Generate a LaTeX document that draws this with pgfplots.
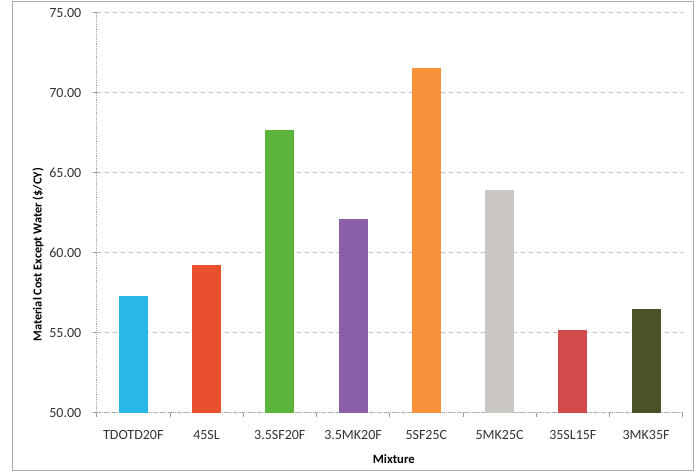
\documentclass[border=0pt]{standalone}
\usepackage{fontspec}
\setmainfont{Carlito}
\usepackage{pgfplots}
\pgfplotsset{compat=1.18}

\definecolor{cTD}{HTML}{2AB6E6}
\definecolor{cSL}{HTML}{E9502D}
\definecolor{cSF}{HTML}{5CB53B}
\definecolor{cMK}{HTML}{8B5EA8}
\definecolor{cSFC}{HTML}{F7923B}
\definecolor{cMKC}{HTML}{CAC6C2}
\definecolor{cSLF}{HTML}{D24B4C}
\definecolor{cMKF}{HTML}{4B5128}

\begin{document}
\begin{tikzpicture}
% page extent and outer chart frame
\path (-72.5pt,-45pt) rectangle (450.2pt,309.5pt);
\draw[gray!70, line width=0.6pt] (-63.5pt,-43.5pt) rectangle (447.2pt,308.8pt);

\begin{axis}[
    scale only axis,
    width=439.5pt, height=300pt,
    xmin=-0.5, xmax=7.5,
    ymin=50, ymax=75,
    ytick={50,55,...,75},
    yticklabel style={/pgf/number format/fixed, /pgf/number format/fixed zerofill, /pgf/number format/precision=2, xshift=-5pt},
    /pgf/number format/assume math mode=true,
    xtick={0,...,7},
    xticklabels={TDOTD20F,45SL,3.5SF20F,3.5MK20F,5SF25C,5MK25C,35SL15F,3MK35F},
    minor xtick={-0.5,0.5,...,7.5},
    major x tick style={draw=none},
    minor tick length=3pt,
    major tick length=3pt,
    tick align=outside,
    tick style={gray!80, thin},
    axis x line*=bottom,
    axis y line*=left,
    axis line style={gray!70, densely dotted, -},
    ymajorgrids=true,
    grid style={gray!50, dashed, thin},
    every tick label/.append style={font=\fontsize{10.5}{12}\selectfont, text=black!80},
    xticklabel style={anchor=center, yshift=-14pt},
    xlabel={\textbf{Mixture}},
    ylabel={\textbf{Material Cost Except Water (\$/CY)}},
    every axis x label/.style={at={(axis description cs:0.507,-0.117)}, anchor=center, font=\fontsize{9.5}{11}\selectfont},
    every axis y label/.style={at={(axis description cs:-0.1,0.395)}, anchor=center, rotate=90, font=\fontsize{9.2}{11}\selectfont},
    ybar, bar width=21.75pt, bar shift=0pt,
    clip=false,
]
\addplot[fill=cTD, draw=none] coordinates {(0,57.27)};
\addplot[fill=cSL, draw=none] coordinates {(1,59.25)};
\addplot[fill=cSF, draw=none] coordinates {(2,67.67)};
\addplot[fill=cMK, draw=none] coordinates {(3,62.10)};
\addplot[fill=cSFC, draw=none] coordinates {(4,71.54)};
\addplot[fill=cMKC, draw=none] coordinates {(5,63.94)};
\addplot[fill=cSLF, draw=none] coordinates {(6,55.14)};
\addplot[fill=cMKF, draw=none] coordinates {(7,56.48)};
\end{axis}
\end{tikzpicture}
\end{document}
